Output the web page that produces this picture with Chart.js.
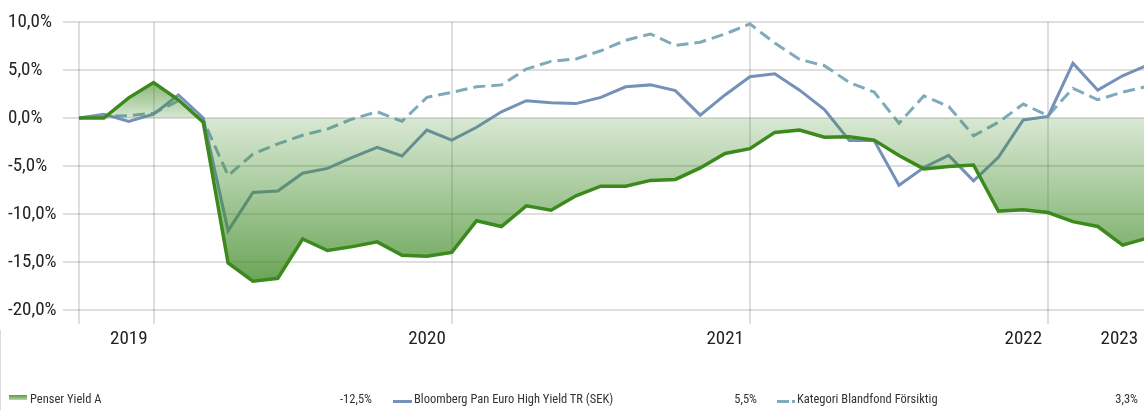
<!DOCTYPE html>
<html>
<head>
<meta charset="utf-8">
<script src="https://cdn.jsdelivr.net/npm/chart.js@4/dist/chart.umd.min.js"></script>
<style>
  html, body { margin: 0; padding: 0; background: #fff; }
  #wrap { position: relative; width: 1144px; height: 410px; overflow: hidden; }
  #c { position: absolute; left: 0; top: 0; }
  .lg { position: absolute; font-family: Roboto, 'Liberation Sans', sans-serif; font-stretch: condensed; font-size: 12.5px; line-height: 14px; color: #333; white-space: nowrap; }
  .sw { position: absolute; }
  #edge { position: absolute; left: 0; top: 330px; width: 1px; height: 80px; background: #dcdcdc; }
</style>
</head>
<body>
<div id="wrap">
  <canvas id="c" width="1144" height="410"></canvas>
  <div id="edge"></div>
  <div id="legend"></div>
</div>
<script>
// ---- data (monthly, index 0 = start of period) ----
const seriesNames = ['Penser Yield A', 'Bloomberg Pan Euro High Yield TR (SEK)', 'Kategori Blandfond Försiktig'];
const penser = [0, 0, 2.1, 3.7, 1.9, -0.45, -15.1, -17.0, -16.7, -12.6, -13.8, -13.4, -12.9, -14.3, -14.4, -14.0, -10.7, -11.3, -9.15, -9.6, -8.1, -7.1, -7.1, -6.5, -6.4, -5.2, -3.7, -3.2, -1.5, -1.25, -2.0, -1.95, -2.3, -3.9, -5.3, -5.05, -4.9, -9.7, -9.55, -9.85, -10.8, -11.3, -13.25, -12.5];
const bloomberg = [0, 0.4, -0.35, 0.4, 2.4, 0, -11.75, -7.75, -7.6, -5.75, -5.25, -4.1, -3.05, -3.95, -1.25, -2.3, -0.97, 0.65, 1.8, 1.6, 1.5, 2.15, 3.25, 3.45, 2.85, 0.3, 2.4, 4.3, 4.6, 2.9, 0.87, -2.35, -2.35, -7.0, -5.15, -3.9, -6.55, -4.1, -0.2, 0.17, 5.7, 2.9, 4.4, 5.5];
const kategori = [0, 0.2, 0.24, 0.5, 1.8, -0.2, -6.0, -3.75, -2.7, -1.8, -1.15, -0.1, 0.65, -0.35, 2.15, 2.67, 3.25, 3.45, 5.1, 5.9, 6.15, 7.0, 8.1, 8.75, 7.55, 7.9, 8.75, 9.8, 7.8, 6.1, 5.45, 3.7, 2.7, -0.55, 2.3, 1.2, -1.85, -0.45, 1.45, 0.24, 3.1, 1.9, 2.7, 3.3];
const yearLabels = ['2019', '2020', '2021', '2022', '2023'];
const yearTickIndex = [3, 15, 27, 39, 43];   // month index of each year mark (last = end of data)
const yTicks = [-20, -15, -10, -5, 0, 5, 10];

const FONT = "Roboto, 'Liberation Sans', sans-serif";
const STRETCH = 'condensed';   // passed through Chart.js font string (Roboto variable width)
const GRID = 'rgba(0,0,0,0.13)';
const lastIdx = penser.length - 1;
const xMax = lastIdx - 0.14;     // last month sits just past the right edge
const labelShift = 0.24;         // year labels end just left of their grid line
const pct = v => v.toFixed(1).replace('.', ',') + '%';
const toPts = arr => arr.map((v, i) => ({x: i, y: v}));

function fillGradient(ctx) {
  const chart = ctx.chart;
  const {chartArea, scales} = chart;
  if (!chartArea) return 'rgba(65,140,40,0.4)';
  const y = scales.y;
  const yTop = y.getPixelForValue(Math.max(...penser));
  const yBot = y.getPixelForValue(Math.min(...penser));
  const y0 = y.getPixelForValue(0);
  const g = chart.ctx.createLinearGradient(0, yTop, 0, yBot);
  const t0 = Math.min(Math.max((y0 - yTop) / (yBot - yTop), 0), 1);
  g.addColorStop(0, 'rgba(65,140,40,0.62)');
  g.addColorStop(t0, 'rgba(65,140,40,0.2)');
  g.addColorStop(1, 'rgba(65,140,40,0.78)');
  return g;
}

Chart.defaults.font.family = FONT;
Chart.defaults.font.weight = STRETCH;
Chart.defaults.color = '#222';

new Chart(document.getElementById('c'), {
  type: 'line',
  data: {
    datasets: [
      {
        label: seriesNames[0], data: toPts(penser),
        borderColor: '#3c8a1e', borderWidth: 3.5, pointRadius: 0, tension: 0,
        fill: 'origin', backgroundColor: fillGradient, borderJoinStyle: 'miter'
      },
      {
        label: seriesNames[1], data: toPts(bloomberg),
        borderColor: '#7391b9', borderWidth: 3, pointRadius: 0, tension: 0, fill: false
      },
      {
        label: seriesNames[2], data: toPts(kategori),
        borderColor: '#7eaabb', borderWidth: 3, borderDash: [12, 6], pointRadius: 0, tension: 0, fill: false
      }
    ]
  },
  options: {
    responsive: false,
    animation: false,
    devicePixelRatio: 1,
    layout: { padding: { left: 8, top: 22, right: 0, bottom: 46 } },
    plugins: { legend: { display: false }, tooltip: { enabled: false } },
    scales: {
      x: {
        type: 'linear', min: 0, max: xMax, position: 'bottom',
        afterBuildTicks: a => { a.ticks = [0].concat(yearTickIndex.slice(0, -1)).map(v => ({value: v})); },
        afterFit: a => { a.height = 14; },
        ticks: { display: false },
        grid: { color: GRID, lineWidth: 2, tickLength: 14, drawTicks: true },
        border: { display: false }
      },
      x2: {
        type: 'linear', min: 0, max: xMax, position: 'bottom',
        afterBuildTicks: a => {
          a.ticks = yearTickIndex.map(v => ({value: Math.min(v, xMax) - labelShift}));
        },
        afterFit: a => { a.height = 40; },
        ticks: {
          align: 'end', padding: 4, color: '#222', font: { size: 19, weight: STRETCH },
          callback: (v, i) => yearLabels[i]
        },
        grid: { display: false, drawTicks: false },
        border: { display: false }
      },
      y: {
        min: -20, max: 10,
        afterBuildTicks: a => { a.ticks = yTicks.map(v => ({value: v})); },
        afterFit: a => { a.width = 71; },
        ticks: {
          crossAlign: 'far', padding: 3, color: '#222', font: { size: 19, weight: STRETCH },
          callback: v => pct(v)
        },
        grid: { color: GRID, lineWidth: 2, tickLength: 16, drawTicks: true },
        border: { display: false }
      }
    }
  }
});

// ---- legend (HTML text) ----
const legendItems = [
  { name: seriesNames[0], val: penser[lastIdx] },
  { name: seriesNames[1], val: bloomberg[lastIdx] },
  { name: seriesNames[2], val: kategori[lastIdx] }
];
const lg = document.getElementById('legend');
const colX = [0, 384, 768];
const valRight = [372, 757, 1138];
const textTop = 392;
legendItems.forEach((it, k) => {
  const x0 = colX[k];
  if (k === 0) {
    const s = document.createElement('div'); s.className = 'sw';
    Object.assign(s.style, { left: (x0 + 9) + 'px', top: '395px', width: '18px', height: '4.5px',
      background: 'linear-gradient(#5a9a42, #b7d5a9)' });
    lg.appendChild(s);
  } else if (k === 1) {
    const s = document.createElement('div'); s.className = 'sw';
    Object.assign(s.style, { left: (x0 + 9) + 'px', top: '399.5px', width: '19px', height: '3px', background: '#7391b9' });
    lg.appendChild(s);
  } else {
    const s = document.createElement('div'); s.className = 'sw';
    Object.assign(s.style, { left: (x0 + 9) + 'px', top: '399.5px', width: '12px', height: '3px', background: '#7eaabb' });
    lg.appendChild(s);
    const d = document.createElement('div'); d.className = 'sw';
    Object.assign(d.style, { left: (x0 + 24) + 'px', top: '399.5px', width: '2.5px', height: '3px', background: '#7eaabb' });
    lg.appendChild(d);
  }
  const t = document.createElement('div'); t.className = 'lg';
  t.textContent = it.name;
  Object.assign(t.style, { left: (x0 + (k === 2 ? 29 : 30)) + 'px', top: textTop + 'px' });
  lg.appendChild(t);
  const v = document.createElement('div'); v.className = 'lg';
  v.textContent = pct(it.val);
  Object.assign(v.style, { right: (1144 - valRight[k]) + 'px', top: textTop + 'px', textAlign: 'right' });
  lg.appendChild(v);
});
</script>
</body>
</html>
